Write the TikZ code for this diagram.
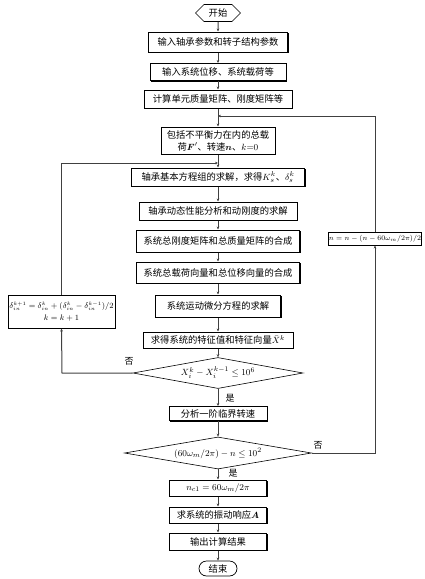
\documentclass[tikz,border=0pt]{standalone}
\usepackage{amsmath,bm}
\usepackage{fontspec}
\newfontfamily\cjk{Noto Sans CJK SC}
\usetikzlibrary{shapes.geometric,shapes.symbols,shapes.misc,shadows,arrows.meta}
\begin{document}
\begin{tikzpicture}[x=1pt,y=-1pt,
  font=\cjk\fontsize{9.3}{11}\selectfont,
  box/.style={draw,line width=1pt,fill=white,inner sep=0pt,align=center,
    drop shadow={shadow xshift=1.1pt,shadow yshift=-1.1pt,opacity=1,fill=black}},
  dia/.style={draw,diamond,line width=0.6pt,inner sep=0pt,fill=white},
  term/.style={draw,line width=0.7pt,inner sep=0pt,fill=white},
  conn/.style={line width=1pt,draw=black!75},
  arr/.style={conn,-{Stealth[length=3pt,width=2.6pt]}},
  lab/.style={inner sep=0pt,font=\cjk\fontsize{9}{10}\selectfont}]
\useasboundingbox (0,0) rectangle (425,579);
% terminals
\node[term,signal,signal to=west and east,minimum width=45pt,minimum height=17pt] (start) at (218,13) {开始};
\node[term,rounded rectangle,minimum width=38pt,minimum height=15pt] (end) at (218,568.5) {结束};
% process boxes
\node[box,minimum width=139pt,minimum height=20pt] (b1) at (218,42) {输入轴承参数和转子结构参数};
\node[box,minimum width=136pt,minimum height=17pt] (b2) at (218,72) {输入系统位移、系统载荷等};
\node[box,minimum width=148pt,minimum height=18pt] (b3) at (218,99) {计算单元质量矩阵、刚度矩阵等};
\node[box,minimum width=114pt,minimum height=27pt,font=\cjk\fontsize{9.3}{12}\selectfont] (b4) at (218,140.5) {包括不平衡力在内的总载\\荷$\boldsymbol{F}'$、转速$\boldsymbol{n}$、$k{=}0$};
\node[box,minimum width=173pt,minimum height=18pt] (b5) at (218,177) {轴承基本方程组的求解，求得$K_s^k$、$\delta_s^k$};
\node[box,minimum width=158pt,minimum height=18pt] (b6) at (218,211) {轴承动态性能分析和动刚度的求解};
\node[box,minimum width=163pt,minimum height=22pt] (b7) at (218,241) {系统总刚度矩阵和总质量矩阵的合成};
\node[box,minimum width=163pt,minimum height=21pt] (b8) at (218,272.5) {系统总载荷向量和总位移向量的合成};
\node[box,minimum width=125pt,minimum height=22pt] (b9) at (218,306) {系统运动微分方程的求解};
\node[box,minimum width=150pt,minimum height=16pt] (b10) at (218,340) {求得系统的特征值和特征向量$\bar{X}^k$};
\node[dia,minimum width=170pt,minimum height=31pt,aspect=5.5] (d1) at (218,373) {$X_i^k-X_i^{k-1}\le 10^6$};
\node[box,minimum width=98pt,minimum height=14pt] (b11) at (218,413.5) {分析一阶临界转速};
\node[dia,minimum width=187pt,minimum height=32pt,aspect=5.8] (d2) at (218,453) {$(60\omega_m/2\pi)-n\le 10^2$};
\node[box,minimum width=97pt,minimum height=16pt] (b12) at (218,488) {$n_{c1}=60\omega_m/2\pi$};
\node[box,minimum width=97pt,minimum height=16pt] (b13) at (218,515) {求系统的振动响应$\boldsymbol{A}$};
\node[box,minimum width=97pt,minimum height=17pt] (b14) at (218,541.5) {输出计算结果};
% side boxes
\node[box,minimum width=107pt,minimum height=33pt,font=\fontsize{7.6}{12}\selectfont] (L) at (61.5,311.5) {$\delta_{in}^{k+1}=\delta_{in}^{k}+(\delta_{in}^{k}-\delta_{in}^{k-1})/2$\\$k=k+1$};
\node[box,minimum width=90pt,minimum height=13pt,font=\fontsize{6.8}{8}\selectfont] (R) at (375,238.5) {$n=n-(n-60\omega_m/2\pi)/2$};
% merge points
\coordinate (m1) at (218,116);
\coordinate (m2) at (218,163);
\coordinate (cL) at (62,373);
\coordinate (cR) at (375,453);
% main flow
\draw[arr] (start) -- (b1);
\draw[arr] (b1) -- (b2);
\draw[arr] (b2) -- (b3);
\draw[arr] (b3) -- (b4);
\draw[arr] (b4) -- (b5);
\draw[arr] (b5) -- (b6);
\draw[arr] (b6) -- (b7);
\draw[arr] (b7) -- (b8);
\draw[arr] (b8) -- (b9);
\draw[arr] (b9) -- (b10);
\draw[arr] (b10) -- (d1);
\draw[arr] (d1) -- (b11);
\draw[arr] (b11) -- (d2);
\draw[arr] (d2) -- (b12);
\draw[arr] (b12) -- (b13);
\draw[arr] (b13) -- (b14);
\draw[arr] (b14) -- (end);
% loops
\draw[arr] (d1.west) -- (cL) -- (L.south);
\draw[arr] (L.north) |- (m2);
\draw[arr] (d2.east) -- (cR) -- (R.south);
\draw[arr] (R.north) |- (m1);
% labels
\node[lab] (n1) at (129,361) {否};
\node[lab] (y1) at (230,398) {是};
\node[lab] (n2) at (318,445) {否};
\node[lab] (y2) at (233,473) {是};
\end{tikzpicture}
\end{document}
